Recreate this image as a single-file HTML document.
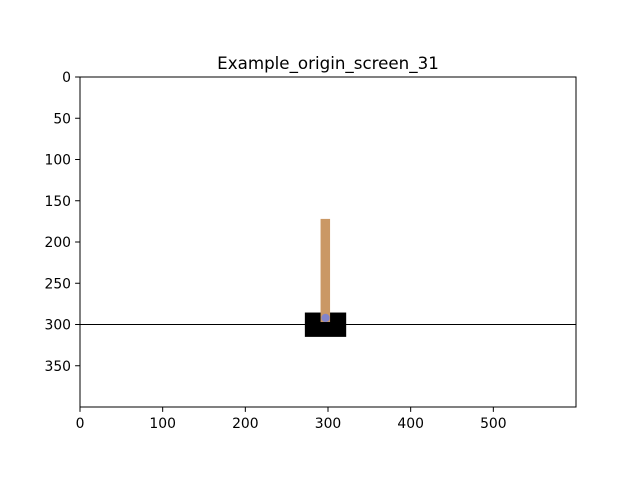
<!DOCTYPE html>
<html><head><meta charset="utf-8"><style>body{margin:0;background:#fff}svg{display:block}text{font-family:"DejaVu Sans","Liberation Sans",sans-serif;font-size:13.9px}</style></head>
<body>
<svg id="chart" width="640" height="480"></svg>
<script>
const xTicks=[0,100,200,300,400,500];
const yTicks=[0,50,100,150,200,250,300,350];
const cartBox=[272,285.5,322,315];   // x0,y0,x1,y1 in image coords
const poleBox=[291,172,302.5,297];
const axle=[297,292,5];
const trackY=[300];
const X0=80,X1=576,Y0=77,Y1=407,W=600,H=400;
const sx=v=>X0+v*(X1-X0)/W, sy=v=>Y0+v*(Y1-Y0)/H;
const svg=document.getElementById('chart');
const NS='http://www.w3.org/2000/svg';
function mk(t,a){const e=document.createElementNS(NS,t);for(const k in a)e.setAttribute(k,a[k]);svg.appendChild(e);return e;}
let e;
e=mk('rect',{x:X0,y:Y0,width:X1-X0,height:Y1-Y0,fill:'#fff'});


e=mk('line',{x1:sx(0),x2:sx(W),y1:sy(trackY[0]),y2:sy(trackY[0]),stroke:'#000','stroke-width':1});


e=mk('rect',{x:sx(cartBox[0]),y:sy(cartBox[1]),width:sx(cartBox[2])-sx(cartBox[0]),height:sy(cartBox[3])-sy(cartBox[1]),fill:'#000'});


e=mk('rect',{x:sx(poleBox[0]),y:sy(poleBox[1]),width:sx(poleBox[2])-sx(poleBox[0]),height:sy(poleBox[3])-sy(poleBox[1]),fill:'#ca9865'});


e=mk('circle',{cx:sx(axle[0]),cy:sy(axle[1]),r:axle[2]*0.825,fill:'#8184cb'});


e=mk('rect',{x:X0,y:Y0,width:X1-X0,height:Y1-Y0,fill:'none',stroke:'#000','stroke-width':1});


xTicks.forEach(v=>{
  const t=mk('line',{x1:sx(v),x2:sx(v),y1:Y1,y2:Y1+4.9,stroke:'#000'});
  
  
  const l=mk('text',{x:sx(v),y:Y1+21,'text-anchor':'middle'});l.textContent=v;
  
  
});
yTicks.forEach(v=>{
  const t=mk('line',{x1:X0-4.9,x2:X0,y1:sy(v),y2:sy(v),stroke:'#000'});
  
  
  const l=mk('text',{x:X0-9,y:sy(v)+5,'text-anchor':'end'});l.textContent=v;
  
  
});
e=mk('text',{x:328,y:69,'text-anchor':'middle'});
e.style.fontSize='16.7px';
e.textContent='Example_origin_screen_31';


</script>
</body></html>
